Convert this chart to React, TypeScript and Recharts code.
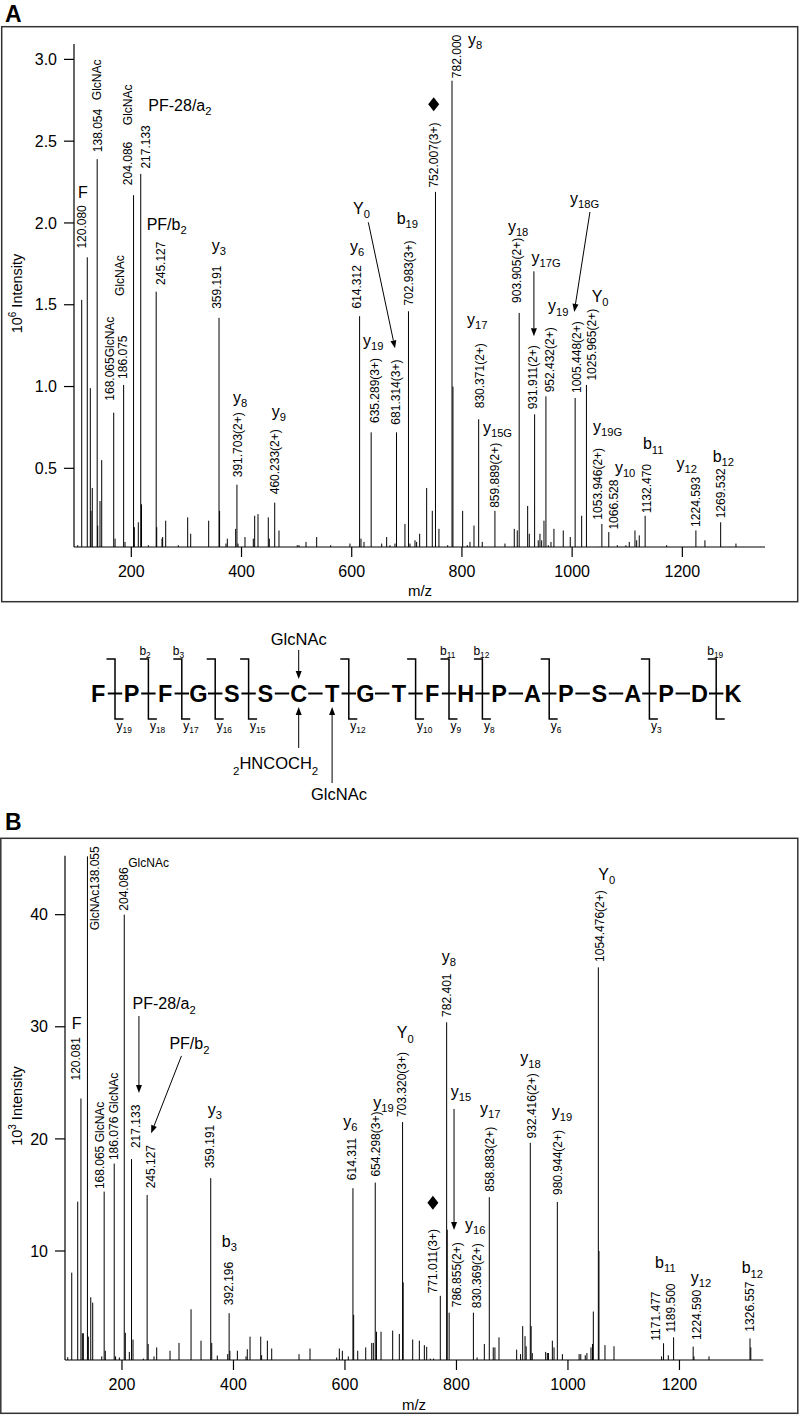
import React from 'react'
import { ComposedChart, XAxis, YAxis, Scatter, ReferenceLine } from 'recharts'

const FONT = '"Liberation Sans", Arial, Helvetica, sans-serif'

// panel A: m/z vs intensity (x10^6)
const peaksA: [number, number][] = [
  [102.7, 0.03], [110.0, 1.53], [120.08, 1.79], [125.6, 0.99], [126.9, 0.24], [129.2, 0.38],
  [138.054, 2.39], [139.0, 0.15], [143.2, 0.3], [146.3, 0.55], [168.065, 0.84], [170.5, 0.07],
  [186.075, 1.01], [188.6, 0.05], [204.086, 2.17], [205.5, 0.14], [212.7, 0.17], [217.133, 2.3],
  [218.5, 0.28], [230.9, 0.03], [245.127, 1.58], [246.1, 0.14], [255.7, 0.07], [256.9, 0.08],
  [262.4, 0.18], [285.3, 0.03], [302.3, 0.2], [307.8, 0.1], [340.4, 0.18], [359.191, 1.42],
  [360.2, 0.24], [371.8, 0.04], [374.2, 0.07], [389.4, 0.13], [391.703, 0.4], [393.6, 0.04],
  [406.3, 0.08], [421.4, 0.07], [423.9, 0.21], [429.9, 0.22], [448.6, 0.2], [450.4, 0.07],
  [460.233, 0.29], [468.0, 0.12], [501.2, 0.03], [504.3, 0.03], [517.0, 0.05], [536.4, 0.08],
  [561.8, 0.03], [596.8, 0.04], [614.312, 1.43], [616.8, 0.07], [622.3, 0.05], [635.289, 0.72],
  [654.4, 0.04], [663.4, 0.08], [669.4, 0.03], [678.5, 0.04], [681.314, 0.72], [696.6, 0.16],
  [702.983, 1.46], [705.7, 0.04], [714.8, 0.06], [717.8, 0.05], [723.3, 0.1], [736.0, 0.38],
  [738.9, 0.02], [746.2, 0.24], [752.007, 2.19], [758.3, 0.13], [774.1, 0.03], [782.0, 2.87],
  [783.7, 1.0], [801.3, 0.24], [809.7, 0.03], [814.6, 0.05], [821.9, 0.15], [830.371, 0.8],
  [836.9, 0.05], [859.889, 0.24], [878.1, 0.04], [895.0, 0.13], [900.4, 0.12], [903.905, 1.45],
  [919.3, 0.27], [922.2, 0.1], [931.911, 0.83], [938.5, 0.06], [941.6, 0.1], [944.7, 0.06],
  [948.9, 0.18], [952.432, 0.94], [956.7, 0.03], [961.6, 0.05], [967.0, 0.13], [983.9, 0.12],
  [996.6, 0.08], [1005.448, 0.93], [1017.3, 0.21], [1025.965, 1.01], [1047.4, 0.02], [1053.946, 0.16],
  [1058.3, 0.02], [1066.528, 0.11], [1081.9, 0.03], [1097.6, 0.03], [1103.7, 0.05], [1114.0, 0.12],
  [1117.1, 0.06], [1121.8, 0.09], [1132.47, 0.21], [1171.5, 0.03], [1224.593, 0.12], [1241.0, 0.06],
  [1269.532, 0.17], [1297.3, 0.04],
]

const labelsA = [
  { mz: 120.08, text: '120.080', ion: 'F' },
  { mz: 138.054, text: '138.054' },
  { mz: 168.065, text: '168.065GlcNAc' },
  { mz: 186.075, text: '186.075' },
  { mz: 204.086, text: '204.086' },
  { mz: 217.133, text: '217.133', ion: 'PF-28/a|2' },
  { mz: 245.127, text: '245.127', ion: 'PF/b|2' },
  { mz: 359.191, text: '359.191', ion: 'y|3' },
  { mz: 391.703, text: '391.703(2+)', ion: 'y|8' },
  { mz: 460.233, text: '460.233(2+)', ion: 'y|9' },
  { mz: 614.312, text: '614.312', ion: 'y|6' },
  { mz: 635.289, text: '635.289(3+)', ion: 'y|19' },
  { mz: 681.314, text: '681.314(3+)', ion: 'Y|0' },
  { mz: 702.983, text: '702.983(3+)', ion: 'b|19' },
  { mz: 752.007, text: '752.007(3+)' },
  { mz: 782.0, text: '782.000', ion: 'y|8' },
  { mz: 830.371, text: '830.371(2+)', ion: 'y|17' },
  { mz: 859.889, text: '859.889(2+)', ion: 'y|15G' },
  { mz: 903.905, text: '903.905(2+)', ion: 'y|18' },
  { mz: 931.911, text: '931.911(2+)', ion: 'y|17G' },
  { mz: 952.432, text: '952.432(2+)', ion: 'y|19' },
  { mz: 1005.448, text: '1005.448(2+)', ion: 'y|18G' },
  { mz: 1025.965, text: '1025.965(2+)', ion: 'Y|0' },
  { mz: 1053.946, text: '1053.946(2+)', ion: 'y|19G' },
  { mz: 1066.528, text: '1066.528', ion: 'y|10' },
  { mz: 1132.47, text: '1132.470', ion: 'b|11' },
  { mz: 1224.593, text: '1224.593', ion: 'y|12' },
  { mz: 1269.532, text: '1269.532', ion: 'b|12' },
]

// panel B: m/z vs intensity (x10^3)
const peaksB: [number, number][] = [
  [102.7, 0.53], [109.9, 8.07], [120.6, 14.4], [126.4, 23.6], [128.9, 2.66], [130.7, 2.66],
  [138.055, 45.2], [139.7, 2.36], [144.0, 5.87], [147.5, 5.4], [163.7, 0.6], [168.065, 15.3],
  [170.1, 1.1], [186.076, 17.8], [188.5, 0.6], [195.3, 0.5], [204.086, 40.0], [206.0, 2.7],
  [213.2, 1.0], [217.133, 18.2], [219.8, 2.1], [238.3, 0.4], [245.127, 15.0], [247.0, 1.7],
  [257.5, 0.6], [262.3, 1.4], [286.2, 1.1], [302.3, 1.8], [323.9, 4.8], [341.8, 2.0],
  [359.191, 16.5], [361.0, 1.8], [371.0, 0.67], [389.7, 0.8], [392.196, 4.45], [393.5, 1.1],
  [407.0, 1.1], [422.5, 0.6], [424.8, 1.24], [429.7, 2.36], [448.9, 2.36], [450.5, 0.7],
  [460.8, 2.0], [468.6, 1.3], [517.6, 0.8], [537.3, 1.3], [585.2, 0.5], [589.9, 1.3],
  [595.3, 1.1], [606.0, 0.6], [614.311, 15.6], [615.6, 4.3], [622.9, 1.1], [637.2, 1.4],
  [648.0, 1.8], [650.9, 1.8], [654.298, 16.1], [656.5, 2.8], [664.7, 2.8], [685.6, 2.9],
  [697.5, 2.6], [703.32, 21.5], [704.4, 7.2], [721.5, 2.1], [733.4, 2.0], [742.4, 1.6],
  [746.6, 1.45], [753.0, 0.4], [759.0, 0.4], [771.011, 6.0], [782.401, 30.4], [783.4, 11.9],
  [786.855, 4.5], [830.369, 4.5], [837.0, 0.5], [850.0, 1.7], [858.883, 14.8], [866.0, 1.4],
  [869.0, 1.4], [876.3, 2.3], [908.0, 1.2], [915.0, 0.8], [918.8, 3.3], [923.0, 2.4],
  [925.0, 1.5], [932.416, 19.65], [933.9, 3.3], [936.0, 0.9], [960.0, 1.0], [963.0, 0.9],
  [965.0, 0.9], [972.0, 2.0], [975.0, 1.4], [980.944, 14.37], [990.0, 0.8], [1020.0, 0.8],
  [1023.0, 0.8], [1031.0, 0.7], [1034.0, 0.9], [1041.3, 1.4], [1044.0, 1.7], [1045.5, 4.6],
  [1054.476, 35.3], [1055.6, 10.0], [1066.4, 1.6], [1082.6, 1.5], [1168.0, 0.6], [1171.477, 1.77],
  [1180.0, 0.7], [1189.5, 2.3], [1224.59, 1.47], [1226.0, 0.6], [1253.0, 0.6], [1326.557, 2.2],
  [1328.0, 1.4],
]

const labelsB = [
  { mz: 126.4, text: '120.081', ion: 'F' },
  { mz: 138.055, text: 'GlcNAc138.055' },
  { mz: 168.065, text: '168.065 GlcNAc' },
  { mz: 186.076, text: '186.076 GlcNAc' },
  { mz: 204.086, text: '204.086' },
  { mz: 217.133, text: '217.133', ion: 'PF-28/a|2' },
  { mz: 245.127, text: '245.127', ion: 'PF/b|2' },
  { mz: 359.191, text: '359.191', ion: 'y|3' },
  { mz: 392.196, text: '392.196', ion: 'b|3' },
  { mz: 614.311, text: '614.311', ion: 'y|6' },
  { mz: 654.298, text: '654.298(3+)', ion: 'y|19' },
  { mz: 703.32, text: '703.320(3+)', ion: 'Y|0' },
  { mz: 771.011, text: '771.011(3+)' },
  { mz: 782.401, text: '782.401', ion: 'y|8' },
  { mz: 786.855, text: '786.855(2+)', ion: 'y|15' },
  { mz: 830.369, text: '830.369(2+)', ion: 'y|16' },
  { mz: 858.883, text: '858.883(2+)', ion: 'y|17' },
  { mz: 932.416, text: '932.416(2+)', ion: 'y|18' },
  { mz: 980.944, text: '980.944(2+)', ion: 'y|19' },
  { mz: 1054.476, text: '1054.476(2+)', ion: 'Y|0' },
  { mz: 1171.477, text: '1171.477' },
  { mz: 1189.5, text: '1189.500', ion: 'b|11' },
  { mz: 1224.59, text: '1224.590', ion: 'y|12' },
  { mz: 1326.557, text: '1326.557', ion: 'b|12' },
]

const xTicks = [200, 400, 600, 800, 1000, 1200]
const yTicksA = [0.5, 1, 1.5, 2, 2.5, 3]
const yTicksB = [10, 20, 30, 40]

const residues = ['F', 'P', 'F', 'G', 'S', 'S', 'C', 'T', 'G', 'T', 'F', 'H', 'P', 'A', 'P', 'S', 'A', 'P', 'D', 'K']
const cuts = [
  { after: 1, y: '19' }, { after: 2, b: '2', y: '18' }, { after: 3, b: '3', y: '17' },
  { after: 4, y: '16' }, { after: 5, y: '15' }, { after: 8, y: '12' }, { after: 10, y: '10' },
  { after: 11, b: '11', y: '9' }, { after: 12, b: '12', y: '8' }, { after: 14, y: '6' },
  { after: 17, y: '3' }, { after: 19, b: '19' },
]

// label placement (pixel offsets from the peak top)
type Place = {
  dx: number
  gap: number
  ix?: number
  iy?: number
  arrow?: number[]
  extra?: { text: string; dx: number; gap: number }
  side?: { text: string; ix: number; iy: number }
  diamond?: [number, number]
}

const placeA: Record<string, Place> = {
  '120.080': { dx: -5.6, gap: 8.7, ix: -9.3, iy: -59.7 },
  '138.054': { dx: 0.5, gap: 7, extra: { text: 'GlcNAc', dx: 0, gap: 59 } },
  '168.065GlcNAc': { dx: -3.7, gap: 12 },
  '186.075': { dx: -1, gap: 6, extra: { text: 'GlcNAc', dx: -4, gap: 89 } },
  '204.086': { dx: -5.5, gap: 10, extra: { text: 'GlcNAc', dx: -5.5, gap: 70 } },
  '217.133': { dx: 5, gap: 5.3, ix: 7.6, iy: -62.6 },
  '245.127': { dx: 4.8, gap: 6.7, ix: -9.5, iy: -61.7 },
  '359.191': { dx: -2, gap: 9, ix: -7.3, iy: -67 },
  '391.703(2+)': { dx: 0.4, gap: 7.4, ix: -4, iy: -82 },
  '460.233(2+)': { dx: 0.3, gap: 8.4, ix: -3, iy: -86 },
  '614.312': { dx: -3, gap: 7.7, ix: -9.6, iy: -64 },
  '635.289(3+)': { dx: 3.8, gap: 9.3, ix: -8.2, iy: -86 },
  '681.314(3+)': { dx: -0.7, gap: 7.7, ix: -43.5, iy: -218, arrow: [-28.2, -210, -1.5, -84] },
  '702.983(3+)': { dx: 0, gap: 5.7, ix: -11.8, iy: -87.7 },
  '752.007(3+)': { dx: -2.2, gap: 4.3, diamond: [-1.8, -87.7] },
  '782.000': { dx: 4.5, gap: 2.5, ix: 16, iy: -36 },
  '830.371(2+)': { dx: 1.3, gap: 11, ix: -11.7, iy: -94 },
  '859.889(2+)': { dx: 0, gap: 3, ix: -12, iy: -78 },
  '903.905(2+)': { dx: -2.6, gap: 10, ix: -11.3, iy: -81 },
  '931.911(2+)': { dx: -2, gap: 5, ix: -3, iy: -151, arrow: [-0.7, -143, -0.7, -78] },
  '952.432(2+)': { dx: 4, gap: 4, ix: 2, iy: -85 },
  '1005.448(2+)': { dx: 1.5, gap: 5, ix: -5.2, iy: -193.7, arrow: [14.8, -186, -0.9, -86] },
  '1025.965(2+)': { dx: 5.2, gap: 4.3, ix: 5.2, iy: -82.6 },
  '1053.946(2+)': { dx: -3.9, gap: 4.3, ix: -8.9, iy: -92.3 },
  '1066.528': { dx: 5.1, gap: 2.5, ix: 6.1, iy: -59 },
  '1132.470': { dx: 1.5, gap: 2.6, ix: -2.2, iy: -66.3 },
  '1224.593': { dx: 0, gap: 3.6, ix: -19.3, iy: -61.3 },
  '1269.532': { dx: 0, gap: 4, ix: -8, iy: -60.3 },
}

const placeB: Record<string, Place> = {
  '120.081': { dx: -5, gap: 18, ix: -9.2, iy: -70 },
  'GlcNAc138.055': { dx: 7.7, gap: -74 },
  '168.065 GlcNAc': { dx: -4.3, gap: 2.5 },
  '186.076 GlcNAc': { dx: -1, gap: 3.5 },
  '204.086': { dx: -1, gap: 4, side: { text: 'GlcNAc', ix: 4, iy: -48 } },
  '217.133': { dx: 4.4, gap: 11, ix: 1, iy: -149.7, arrow: [7.4, -143, 7.4, -66] },
  '245.127': { dx: 4, gap: 6.6, ix: 22.3, iy: -145.6, arrow: [34.3, -139, 4, -61.6] },
  '359.191': { dx: -0.7, gap: 10, ix: -3, iy: -63 },
  '392.196': { dx: -0.8, gap: 8, ix: -7.4, iy: -66.6 },
  '614.311': { dx: -1.2, gap: 8, ix: -9.6, iy: -61.5 },
  '654.298(3+)': { dx: 0, gap: 6, ix: -1.9, iy: -74.6 },
  '703.320(3+)': { dx: -0.8, gap: 5, ix: -5.8, iy: -83.6 },
  '771.011(3+)': { dx: -7.7, gap: 2.6, diamond: [-7.4, -93] },
  '782.401': { dx: 0, gap: 5.4, ix: -5, iy: -60.4 },
  '786.855(2+)': { dx: 7.6, gap: 5.4, ix: 1.6, iy: -216, arrow: [4.9, -203.7, 4.9, -82.7] },
  '830.369(2+)': { dx: 3.3, gap: 4.4, ix: -8.4, iy: -82.7 },
  '858.883(2+)': { dx: 0, gap: 5.4, ix: -9.3, iy: -83 },
  '932.416(2+)': { dx: 1.6, gap: 4.4, ix: -10, iy: -79.4 },
  '980.944(2+)': { dx: 0.4, gap: 7, ix: -5.6, iy: -84.7 },
  '1054.476(2+)': { dx: 1.7, gap: 5.4, ix: 0, iy: -87.8 },
  '1171.477': { dx: -7.4, gap: 2.6 },
  '1189.500': { dx: -2.5, gap: 4.7, ix: -18.5, iy: -69 },
  '1224.590': { dx: 3.7, gap: 6.7, ix: -2.3, iy: -63.4 },
  '1326.557': { dx: 0, gap: 6.8, ix: -8.3, iy: -65 },
}

function withHeights(labels: { mz: number; text: string; ion?: string }[], peaks: [number, number][]) {
  return labels.map((l) => {
    const p = peaks.find((q) => q[0] === l.mz)
    return { ...l, v: p ? p[1] : 0 }
  })
}

const rowsA = withHeights(labelsA, peaksA)
const rowsB = withHeights(labelsB, peaksB)

function VText({ x, y, text, size = 12 }: { x: number; y: number; text: string; size?: number }) {
  return (
    <text transform={`translate(${x},${y}) rotate(-90)`} fontSize={size} fill="#000">
      {text}
    </text>
  )
}

function Ion({ x, y, ion, size = 16 }: { x: number; y: number; ion: string; size?: number }) {
  const [main, sub] = ion.split('|')
  return (
    <text x={x} y={y} fontSize={size} fill="#000">
      {main}
      {sub ? (
        <tspan fontSize={size * 0.7} dy={size * 0.26}>
          {sub}
        </tspan>
      ) : null}
    </text>
  )
}

function Arrow({ x1, y1, x2, y2 }: { x1: number; y1: number; x2: number; y2: number }) {
  const a = Math.atan2(y2 - y1, x2 - x1)
  const L = 8
  const W = 3
  const bx = x2 - L * Math.cos(a)
  const by = y2 - L * Math.sin(a)
  const pts = `${x2},${y2} ${bx - W * Math.sin(a)},${by + W * Math.cos(a)} ${bx + W * Math.sin(a)},${by - W * Math.cos(a)}`
  return (
    <g>
      <line x1={x1} y1={y1} x2={bx} y2={by} stroke="#000" strokeWidth={1} />
      <polygon points={pts} fill="#000" />
    </g>
  )
}

function PeakLabel(props: any) {
  const { cx, cy, payload, place } = props
  if (cx == null || cy == null) return null
  const pl: Place = place[payload.text] || { dx: 0, gap: 5 }
  const half = 4.3
  return (
    <g>
      <VText x={cx + pl.dx + half} y={cy - pl.gap} text={payload.text} />
      {pl.extra ? <VText x={cx + pl.extra.dx + half} y={cy - pl.extra.gap} text={pl.extra.text} /> : null}
      {pl.side ? (
        <text x={cx + pl.side.ix} y={cy + pl.side.iy} fontSize={12} fill="#000">
          {pl.side.text}
        </text>
      ) : null}
      {payload.ion ? <Ion x={cx + (pl.ix || 0)} y={cy + (pl.iy || 0)} ion={payload.ion} /> : null}
      {pl.arrow ? (
        <Arrow x1={cx + pl.arrow[0]} y1={cy + pl.arrow[1]} x2={cx + pl.arrow[2]} y2={cy + pl.arrow[3]} />
      ) : null}
      {pl.diamond ? (
        <polygon
          points={`${cx + pl.diamond[0]},${cy + pl.diamond[1] - 7} ${cx + pl.diamond[0] + 5.5},${cy + pl.diamond[1]} ${cx + pl.diamond[0]},${cy + pl.diamond[1] + 7} ${cx + pl.diamond[0] - 5.5},${cy + pl.diamond[1]}`}
          fill="#000"
        />
      ) : null}
    </g>
  )
}

function Spectrum(props: {
  peaks: [number, number][]
  rows: any[]
  place: Record<string, Place>
  xDomain: [number, number]
  yDomain: [number, number]
  yTicks: number[]
  yFmt: (v: number) => string
  height: number
  margin: { top: number; right: number; left: number; bottom: number }
  yWidth: number
  xHeight: number
}) {
  const { peaks, rows, place, xDomain, yDomain, yTicks, yFmt, height, margin, yWidth, xHeight } = props
  const base = yDomain[0]
  const axisLine = { stroke: '#000', strokeWidth: 1.2 }
  return (
    <ComposedChart width={800} height={height} margin={margin}>
      <XAxis
        type="number"
        dataKey="mz"
        domain={xDomain}
        ticks={xTicks}
        height={xHeight}
        tickSize={10}
        tickMargin={9}
        axisLine={axisLine}
        tickLine={axisLine}
        tick={{ fontSize: 16, fill: '#000' }}
      />
      <YAxis
        type="number"
        dataKey="v"
        domain={yDomain}
        ticks={yTicks}
        tickFormatter={yFmt}
        width={yWidth}
        tickSize={10}
        tickMargin={7}
        axisLine={axisLine}
        tickLine={axisLine}
        tick={{ fontSize: 16, fill: '#000' }}
      />
      {peaks.map(([mz, v], i) => (
        <ReferenceLine
          key={i}
          segment={[{ x: mz, y: base }, { x: mz, y: v }]}
          stroke="#000"
          strokeWidth={1}
          ifOverflow="visible"
        />
      ))}
      <Scatter
        data={rows}
        dataKey="v"
        isAnimationActive={false}
        shape={(p: any) => <PeakLabel {...p} place={place} />}
      />
    </ComposedChart>
  )
}

function Sequence() {
  const x0 = 98.3
  const step = 33.4
  const xs = residues.map((_, i) => x0 + i * step)
  return (
    <g>
      {residues.map((r, i) => (
        <text key={'r' + i} x={xs[i]} y={702} textAnchor="middle" fontSize={23.5} fontWeight="bold" fill="#000">
          {r}
        </text>
      ))}
      {xs.slice(0, -1).map((x, i) => (
        <line key={'d' + i} x1={x + 9.5} x2={xs[i + 1] - 9.5} y1={693.5} y2={693.5} stroke="#000" strokeWidth={2} />
      ))}
      {cuts.map((c) => {
        const m = (xs[c.after - 1] + xs[c.after]) / 2
        return (
          <g key={'c' + c.after}>
            <polyline points={`${m - 8.5},659 ${m},659 ${m},719 ${m + 8.5},719`} fill="none" stroke="#000" strokeWidth={1.5} />
            {c.b ? <Ion x={m - 9} y={655} ion={'b|' + c.b} size={12} /> : null}
            {c.y ? <Ion x={m + 1.5} y={729.5} ion={'y|' + c.y} size={12} /> : null}
          </g>
        )
      })}
      <text x={xs[6]} y={645} textAnchor="middle" fontSize={16.5} fill="#000">GlcNAc</text>
      <Arrow x1={xs[6]} y1={650} x2={xs[6]} y2={679} />
      <Arrow x1={xs[6]} y1={748} x2={xs[6]} y2={707} />
      <Arrow x1={xs[7]} y1={783} x2={xs[7]} y2={707} />
      <text x={233} y={768.5} fontSize={16.5} fill="#000">
        <tspan fontSize={11.5} dy={6}>2</tspan>
        <tspan dy={-6}>HNCOCH</tspan>
        <tspan fontSize={11.5} dy={6}>2</tspan>
      </text>
      <text x={311} y={800} fontSize={16.5} fill="#000">GlcNAc</text>
    </g>
  )
}

export default function App() {
  return (
    <div
      style={{
        position: 'absolute',
        left: 0,
        top: 0,
        width: 800,
        height: 1416,
        background: '#fff',
        fontFamily: FONT,
        overflow: 'hidden',
      }}
    >
      <svg width={800} height={1416} style={{ position: 'absolute', left: 0, top: 0 }} fontFamily={FONT}>
        <text x={5} y={22} fontSize={23} fontWeight="bold" fill="#000">A</text>
        <text x={5} y={830} fontSize={23} fontWeight="bold" fill="#000">B</text>
        <rect x={1.7} y={26.7} width={796} height={575} fill="none" stroke="#333" strokeWidth={1.5} />
        <rect x={0.8} y={838.3} width={797} height={575} fill="none" stroke="#333" strokeWidth={1.5} />
        <text transform="translate(22,293.5) rotate(-90)" textAnchor="middle" fontSize={14.5} fill="#000">
          10<tspan fontSize={10} dy={-6}>6</tspan>
          <tspan dy={6}> Intensity</tspan>
        </text>
        <text transform="translate(22,1106) rotate(-90)" textAnchor="middle" fontSize={14.5} fill="#000">
          10<tspan fontSize={10} dy={-6}>3</tspan>
          <tspan dy={6}> Intensity</tspan>
        </text>
        <text x={420} y={596} textAnchor="middle" fontSize={15} fill="#000">m/z</text>
        <text x={414} y={1410} textAnchor="middle" fontSize={15} fill="#000">m/z</text>
        <Sequence />
      </svg>
      <div style={{ position: 'absolute', left: 0, top: 27 }}>
        <Spectrum
          peaks={peaksA}
          rows={rowsA}
          place={placeA}
          xDomain={[96, 1350]}
          yDomain={[0.019, 3.094]}
          yTicks={yTicksA}
          yFmt={(v) => v.toFixed(1)}
          height={575}
          margin={{ top: 17, right: 35, left: 0, bottom: 0 }}
          yWidth={74}
          xHeight={55}
        />
      </div>
      <div style={{ position: 'absolute', left: 0, top: 838 }}>
        <Spectrum
          peaks={peaksB}
          rows={rowsB}
          place={placeB}
          xDomain={[97.8, 1350.4]}
          yDomain={[0.277, 45.26]}
          yTicks={yTicksB}
          yFmt={(v) => String(v)}
          height={578}
          margin={{ top: 17.7, right: 36.7, left: 0, bottom: 0 }}
          yWidth={65}
          xHeight={56}
        />
      </div>
    </div>
  )
}
